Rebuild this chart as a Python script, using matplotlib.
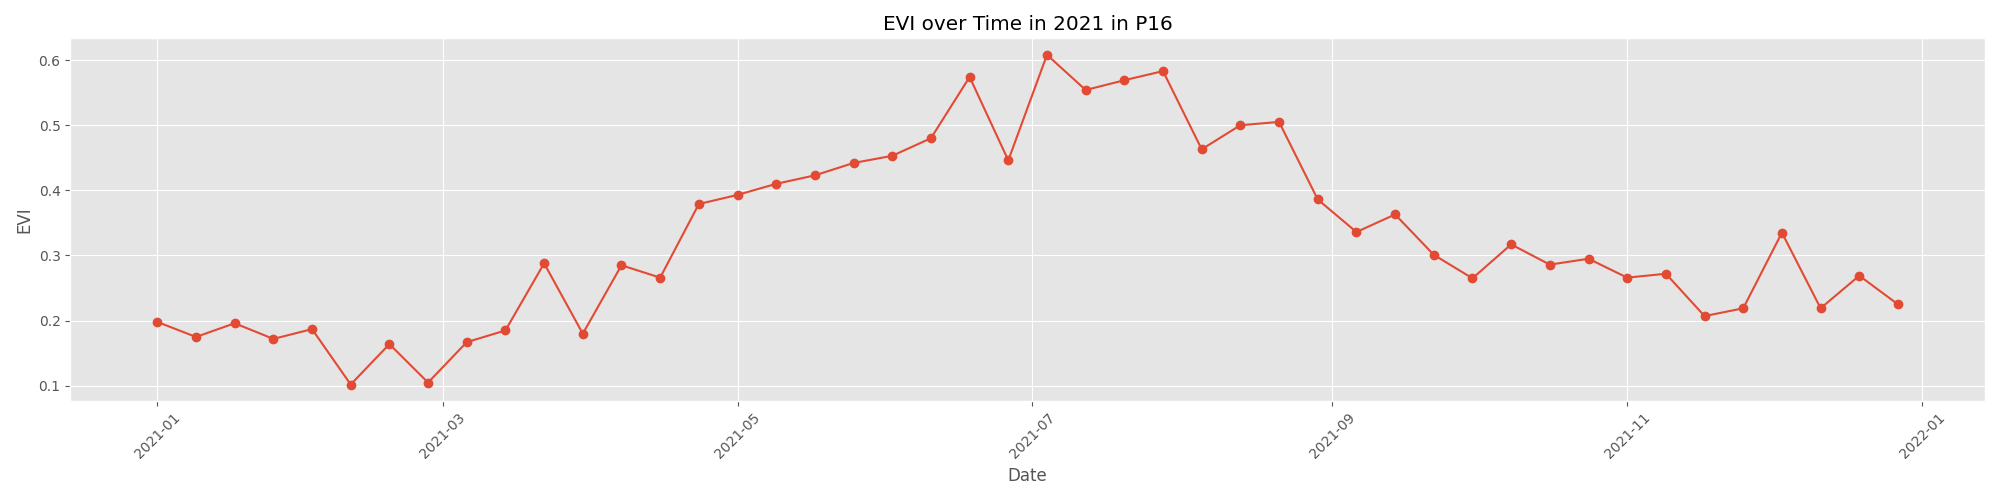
import numpy as np
import pandas as pd
import matplotlib
matplotlib.use("Agg")
import matplotlib.pyplot as plt

plt.style.use('ggplot')

# 8-day composites through 2021
start_date = '2021-01-01'
n_obs = 46
evi = [0.198, 0.175, 0.196, 0.172, 0.187, 0.102, 0.164, 0.105, 0.167, 0.185,
       0.288, 0.180, 0.285, 0.266, 0.379, 0.393, 0.410, 0.423, 0.442, 0.453,
       0.480, 0.574, 0.446, 0.608, 0.554, 0.569, 0.583, 0.463, 0.500, 0.505,
       0.386, 0.336, 0.363, 0.301, 0.265, 0.317, 0.286, 0.295, 0.266, 0.272,
       0.207, 0.219, 0.335, 0.219, 0.269, 0.225]

dates = pd.date_range(start_date, periods=n_obs, freq='8D')

fig, ax = plt.subplots(figsize=(20, 5), dpi=100)
ax.plot(dates, evi, marker='o')
ax.set_title('EVI over Time in 2021 in P16')
ax.set_xlabel('Date')
ax.set_ylabel('EVI')
plt.xticks(rotation=45)
plt.tight_layout()
fig.savefig('out.png')
